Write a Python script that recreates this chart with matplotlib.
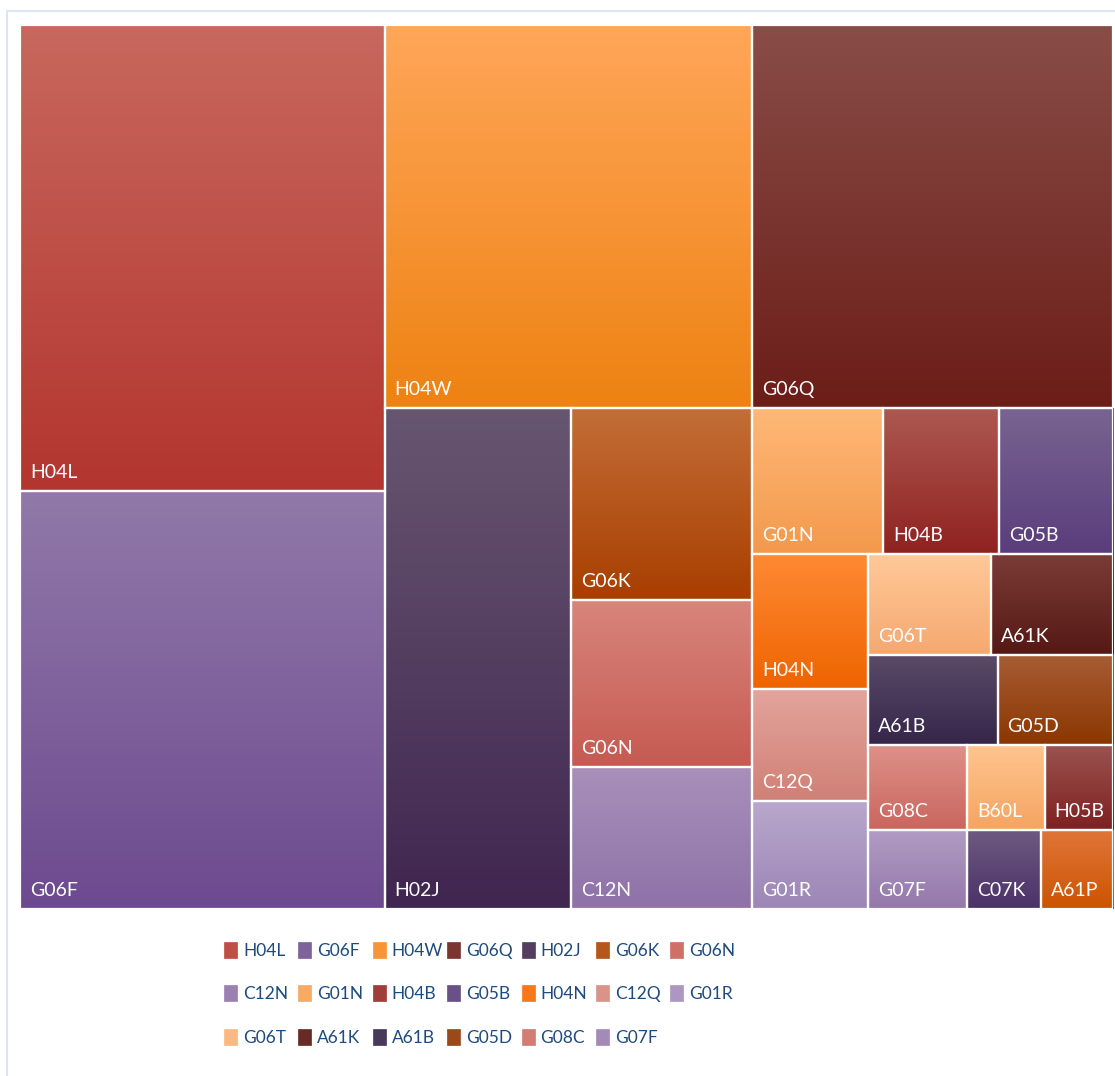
import numpy as np
import matplotlib
matplotlib.use("Agg")
import matplotlib.pyplot as plt
from matplotlib.patches import Rectangle
from matplotlib.colors import to_rgb

# ---------------- data ----------------
categories = ["H04L", "G06F", "H04W", "G06Q", "H02J", "G06K", "G06N", "C12N",
              "G01N", "H04B", "G05B", "H04N", "C12Q", "G01R", "G06T", "A61K",
              "A61B", "G05D", "G08C", "G07F", "B60L", "H05B", "C07K", "A61P"]
values = [1696, 1522, 1406, 1379, 932, 348, 302, 257,
          190, 169, 166, 156, 129, 124, 124, 123,
          117, 104, 84, 78, 66, 58, 58, 57]
legend_categories = categories[:20]

# gradient colours (top, bottom) per category
top_colors = ["#c8685e", "#9179a9", "#ffa659", "#894d47", "#675670", "#c36e38",
              "#d8857b", "#a890ba", "#ffb877", "#ad5852", "#786491", "#ff8a35",
              "#e3a49c", "#b9a7cc", "#ffc999", "#7b3c37", "#5b4b68", "#a85d35",
              "#dd9189", "#b19cc4", "#ffc590", "#9a5450", "#6d5a80", "#e0753a"]
bottom_colors = ["#b3352f", "#6d4a8f", "#ee8212", "#6c1d18", "#402650", "#a83e00",
                 "#c55a52", "#8e72a8", "#f3994c", "#8f2220", "#5a3d7c", "#ee6400",
                 "#d08076", "#9c86b6", "#f5a870", "#551814", "#35254a", "#8a3600",
                 "#c9665e", "#9478aa", "#f5a462", "#7e2020", "#4b3268", "#cc5400"]

# strip sizes used by the strip treemap layout
strip_sizes = [2, 2, 1, 3, 3, 3, 2, 2, 2, 2, 1, 1]

FONT = "Lato"

# ---------------- layout ----------------
W, H = 1093.0, 884.0


def strip_layout(vals, sizes, x, y, w, h):
    total = float(sum(vals))
    scale = w * h / total
    rects = []
    i = 0
    for n in sizes:
        chunk = vals[i:i + n]
        area = sum(chunk) * scale
        if w >= h:  # column along the left side
            cw = area / h
            cy = y
            for v in chunk:
                rh = v * scale / cw
                rects.append((x, cy, cw, rh))
                cy += rh
            x += cw
            w -= cw
        else:  # row along the top
            rh = area / w
            cx = x
            for v in chunk:
                rw = v * scale / rh
                rects.append((cx, y, rw, rh))
                cx += rw
            y += rh
            h -= rh
        i += n
    return rects


rects = strip_layout(values, strip_sizes, 0.0, 0.0, W, H)

# ---------------- figure ----------------
FW, FH = 1115, 1076
fig = plt.figure(figsize=(FW / 100, FH / 100), dpi=100)
fig.patch.set_facecolor("white")

# faint outer frame
frame_ax = fig.add_axes([0, 0, 1, 1])
frame_ax.set_xlim(0, FW)
frame_ax.set_ylim(FH, 0)
frame_ax.axis("off")
frame_ax.plot([6.5, 6.5, 1200], [1200, 10.5, 10.5], color="#dce5f4", lw=1.5)

ax = fig.add_axes([20 / FW, 1 - 909 / FH, W / FW, H / FH])
ax.set_xlim(0, W)
ax.set_ylim(H, 0)
ax.axis("off")

label_fs = 14
legend_fs = 12.5

grad = np.linspace(0, 1, 256)[:, None]
for name, (rx, ry, rw, rh), tc, bc in zip(categories, rects, top_colors, bottom_colors):
    t = np.array(to_rgb(tc))
    b = np.array(to_rgb(bc))
    img = t[None, None, :] * (1 - grad[:, :, None]) + b[None, None, :] * grad[:, :, None]
    img = np.repeat(img, 2, axis=1)
    ax.imshow(img, extent=(rx, rx + rw, ry + rh, ry), aspect="auto",
              interpolation="bilinear", zorder=1)
    ax.add_patch(Rectangle((rx, ry), rw, rh, fill=False, edgecolor="white",
                           lw=1.6, zorder=3))
    ax.text(rx + 10, ry + rh - 13, name, color="white", fontsize=label_fs,
            family=FONT, ha="left", va="baseline", zorder=4)

ax.set_xlim(0, W)
ax.set_ylim(H, 0)

# ---------------- legend ----------------
ncol = 7
col_x0, col_dx = 224, 74.4
row_y = [950, 993, 1037]
for k, name in enumerate(legend_categories):
    r, c = divmod(k, ncol)
    sx = col_x0 + c * col_dx
    sy = row_y[r]
    i = categories.index(name)
    mid = (np.array(to_rgb(top_colors[i])) + np.array(to_rgb(bottom_colors[i]))) / 2
    frame_ax.add_patch(Rectangle((sx, sy - 8), 13, 16, facecolor=mid,
                                 edgecolor=mid, lw=0.5))
    frame_ax.text(sx + 19, sy + 1, name, color="#1f4a7e", fontsize=legend_fs,
                  family=FONT, ha="left", va="center")

fig.savefig("out.png", dpi=100, facecolor="white")
